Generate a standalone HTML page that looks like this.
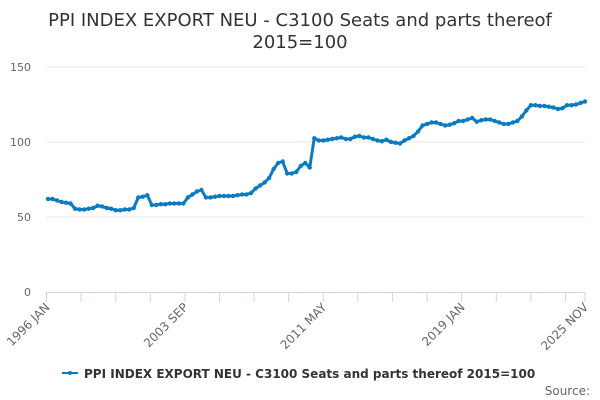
<!DOCTYPE html>
<html><head><meta charset="utf-8"><style>
body{margin:0;background:#fff;}
svg{display:block;font-family:"DejaVu Sans","Liberation Sans",sans-serif;}
</style></head><body>
<svg id="chart" width="600" height="400">
<text x="300" y="26" text-anchor="middle" font-size="18" fill="#333"><tspan x="300">PPI INDEX EXPORT NEU - C3100 Seats and parts thereof</tspan><tspan x="300" dy="22">2015=100</tspan></text>
<g id="grid"></g><g id="xaxis"></g><g id="series"></g>
<g>
<line x1="62" y1="373" x2="78" y2="373" stroke="#0a7bc1" stroke-width="2"/>
<circle cx="70" cy="373" r="2" fill="#0a7bc1"/>
<text x="84" y="378" font-size="12" font-weight="bold" fill="#333">PPI INDEX EXPORT NEU - C3100 Seats and parts thereof 2015=100</text>
</g>
<text x="590" y="395" text-anchor="end" font-size="12" fill="#666">Source:</text>
</svg>
<script>
const yTicks=[0,50,100,150];
const xLabels=["1996 JAN","2003 SEP","2011 MAY","2019 JAN","2025 NOV"];
const xLabelMonths=[0,92,184,276,358];
const values=[
62,62,61,60, 59.5,59,55.5,55, 55,55.5,56,57.5, 57,56,55.5,54.5, 54.5,55,55,56,
63,63.5,64.5,58, 58,58.5,58.5,59, 59,59,59,63, 65,67,68,63, 63,63.5,64,64,
64,64,64.5,65, 65,66,69,71, 73,76,82,86, 87,79,79,80, 84,86,83,102.5,
101,101,101.5,102, 102.5,103,102,102, 103.5,104,103,103, 102,101,100.5,101.5, 100,99.5,99,101,
102.5,104,107,111, 112,113,113,112, 111,111.5,112.5,114, 114,115,116,113.5, 114.5,115,115,114,
113,112,112,113, 114,117,121,124.5, 124.5,124,124,123.5, 123,122,122.5,124.5, 124.5,125,126,127
];
const NS="http://www.w3.org/2000/svg";
const x0=46.5,x1=585,y0=292,yTop=67,maxM=358,yMax=150;
const xs=m=>x0+m*(x1-x0)/maxM;
const ys=v=>y0-v*(y0-yTop)/yMax;
function mk(t,a,p){const e=document.createElementNS(NS,t);for(const k in a)e.setAttribute(k,a[k]);p.appendChild(e);return e;}
const grid=document.getElementById('grid');
yTicks.forEach(v=>{
 if(v>0){const l=mk('line',{x1:x0,x2:x1,y1:ys(v),y2:ys(v),stroke:'#e6e6e6'},grid);
 
 }
 const t=mk('text',{x:31,y:ys(v)+4,'text-anchor':'end','font-size':11,fill:'#666'},grid);
 t.textContent=v;
 
 
});
const xa=document.getElementById('xaxis');
const al=mk('line',{x1:x0,x2:x1,y1:y0+0.5,y2:y0+0.5,stroke:'#ccd6eb'},xa);


for(let m=0;m<=maxM;m+=23){mk('line',{x1:xs(m),x2:xs(m),y1:y0,y2:y0+10,stroke:'#ccd6eb'},xa);}
mk('line',{x1:xs(maxM),x2:xs(maxM),y1:y0,y2:y0+10,stroke:'#ccd6eb'},xa);
xLabels.forEach((s,i)=>{
 const x=xs(xLabelMonths[i]);
 const t=mk('text',{x:x+4,y:y0+16,'text-anchor':'end','font-size':12,fill:'#666',transform:`rotate(-45 ${x+4} ${y0+16})`},xa);
 t.textContent=s;
 
 
});
const sg=document.getElementById('series');
const pts=values.map((v,i)=>[xs(Math.min(i*3+1,maxM)),ys(v)]);
const pl=mk('polyline',{points:pts.map(p=>p.join(',')).join(' '),fill:'none',stroke:'#0a7bc1','stroke-width':3,'stroke-linejoin':'round'},sg);


pts.forEach(p=>{
 const c=mk('circle',{cx:p[0],cy:p[1],r:2.2,fill:'#0a7bc1'},sg);
 
 
});
</script>
</body></html>
